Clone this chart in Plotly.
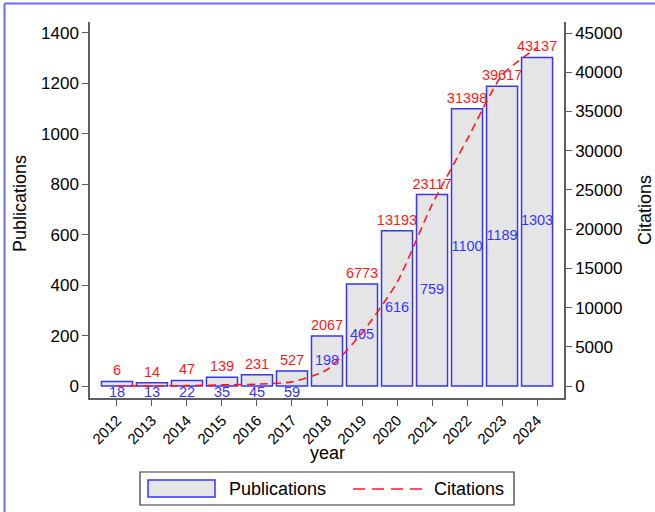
import plotly.graph_objects as go

years = [2012, 2013, 2014, 2015, 2016, 2017, 2018, 2019, 2020, 2021, 2022, 2023, 2024]
publications = [18, 13, 22, 35, 45, 59, 198, 405, 616, 759, 1100, 1189, 1303]
citations = [6, 14, 47, 139, 231, 527, 2067, 6773, 13193, 23117, 31398, 39617, 43137]
year_labels = [str(y) for y in years]
left_ticks = list(range(0, 1401, 200))
right_ticks = list(range(0, 45001, 5000))

FONT = "Arial, Liberation Sans, sans-serif"
BLUE = "#3535ff"
RED = "#ff1a1a"
AX = "#5f5f5f"

# plot area in pixels
W, H = 655, 512
L, R, T, B = 90, 564, 22, 398
def px(x):
    return (x - L) / (R - L)
def py(y):
    return (B - y) / (B - T)

fig = go.Figure()

fig.add_trace(go.Bar(
    x=years, y=publications, width=0.886,
    marker=dict(color="#e5e5e5", line=dict(color=BLUE, width=1.5)),
    text=[str(c) for c in citations], textposition="outside",
    textfont=dict(color=RED, size=14.5, family=FONT),
    constraintext="none", cliponaxis=False, showlegend=False,
))

fig.add_trace(go.Scatter(
    x=years, y=citations, yaxis="y2", mode="lines",
    line=dict(color=RED, width=1.6, dash="8px,5px", shape="spline", smoothing=0.6),
    showlegend=False,
))

# blue publication labels
small = [(x, p) for x, p in zip(years, publications) if p < 100]
big = [(x, p) for x, p in zip(years, publications) if p >= 100]
fig.add_trace(go.Scatter(
    x=[a for a, _ in small], y=[0 for _ in small], mode="text",
    text=[str(p) for _, p in small], textposition="bottom center",
    textfont=dict(color=BLUE, size=14.5, family=FONT), showlegend=False, cliponaxis=False,
))
fig.add_trace(go.Scatter(
    x=[a for a, _ in big], y=[p / 2 for _, p in big], mode="text",
    text=[str(p) for _, p in big], textposition="middle center",
    textfont=dict(color=BLUE, size=14.5, family=FONT), showlegend=False, cliponaxis=False,
))

axis_common = dict(showline=True, linecolor=AX, linewidth=1.5, ticks="outside",
                   ticklen=6, tickcolor=AX, tickwidth=1.2, showgrid=False, zeroline=False,
                   tickfont=dict(size=17, color="black", family=FONT))

fig.update_layout(
    width=W, height=H,
    margin=dict(l=L, r=W - R, t=T, b=H - B, pad=0),
    paper_bgcolor="white", plot_bgcolor="white",
    font=dict(family=FONT, color="black"),
    showlegend=False,
    xaxis=dict(range=[2011.23, 2024.77], tickvals=years, ticktext=year_labels,
               tickangle=-45, **{**axis_common, "tickfont": dict(size=15, color="black", family=FONT)}),
    yaxis=dict(range=[-47.6, 1443.6], tickvals=left_ticks,
               ticktext=[str(v) for v in left_ticks], **axis_common),
    yaxis2=dict(range=[-1530, 46402], tickvals=right_ticks,
                ticktext=[str(v) for v in right_ticks], overlaying="y", side="right",
                **axis_common),
)

ann = dict(xref="paper", yref="paper", showarrow=False, font=dict(size=18, family=FONT, color="black"))
fig.add_annotation(x=0.5, y=py(453), text="year", xanchor="center", yanchor="middle", **ann)
fig.add_annotation(x=px(20), y=py(204), text="Publications", textangle=-90,
                   xanchor="center", yanchor="middle", **ann)
fig.add_annotation(x=px(645), y=py(210), text="Citations", textangle=-90,
                   xanchor="center", yanchor="middle", **ann)
fig.add_annotation(x=px(227), y=py(489), text="Publications", xanchor="left", yanchor="middle", **ann)
fig.add_annotation(x=px(432), y=py(489), text="Citations", xanchor="left", yanchor="middle", **ann)

shapes = [
    # legend box
    dict(type="rect", xref="paper", yref="paper", x0=px(140), x1=px(514), y0=py(505), y1=py(472),
         line=dict(color="#333333", width=1.2), fillcolor="white", layer="below"),
    dict(type="rect", xref="paper", yref="paper", x0=px(148), x1=px(215), y0=py(497), y1=py(480),
         line=dict(color=BLUE, width=1.5), fillcolor="#e5e5e5"),
    dict(type="line", xref="paper", yref="paper", x0=px(353), x1=px(422), y0=py(489), y1=py(489),
         line=dict(color=RED, width=1.6, dash="12px,7px")),
    # outer frame (left and top)
    dict(type="line", xref="paper", yref="paper", x0=px(4.5), x1=px(4.5), y0=py(3.5), y1=py(520),
         line=dict(color="#6a6aff", width=2)),
    dict(type="line", xref="paper", yref="paper", x0=px(4.5), x1=px(660), y0=py(3.5), y1=py(3.5),
         line=dict(color="#6a6aff", width=2)),
]
fig.update_layout(shapes=shapes)

fig.write_html("out.html", config={"displayModeBar": False},
               post_script="document.body.style.margin='0px';document.body.style.overflow='hidden';")
